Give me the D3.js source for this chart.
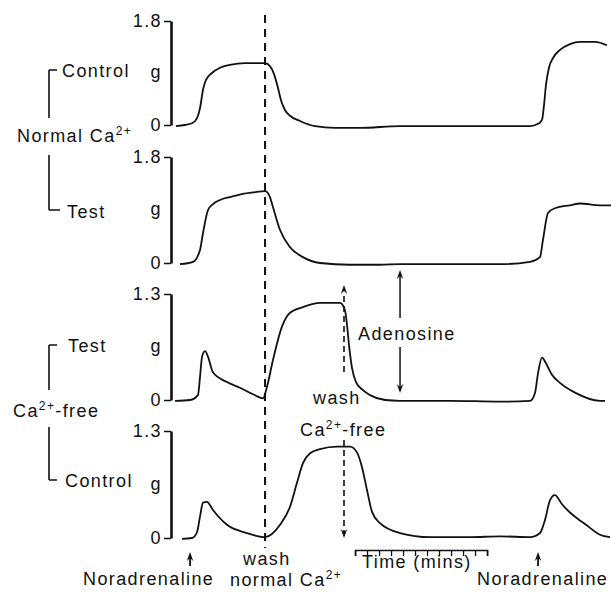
<!DOCTYPE html>
<html><head><meta charset="utf-8">
<script src="https://cdn.jsdelivr.net/npm/d3@7"></script>
<style>
body{margin:0;background:#fff;}
svg text{font-family:"Liberation Sans",Arial,Helvetica,sans-serif;font-size:18px;fill:#111;letter-spacing:1.4px;}
</style></head><body><svg id="c" width="611" height="592"></svg>
<script>
// ---- data (time in minutes, tension in g) ----
const panelNames = ["Control", "Test", "Test", "Control"];
const groupNames = ["Normal Ca", "Ca"];
const axisMax = [1.8, 1.8, 1.3, 1.3];
const axisUnit = "g";

const tNormalControl = [0.0,0.75,1.33,1.75,2.0,2.25,2.5,3.0,3.67,4.5,5.75,7.42,7.83,8.17,8.5,8.75,9.08,9.5,10.33,11.58,13.25,15.33,18.67,22.83,27.0,29.5,30.17,30.5,30.67,30.83,31.08,31.42,32.0,32.83,33.67,34.92,35.92];
const vNormalControl = [-0.02,0,0.03,0.12,0.29,0.61,0.78,0.9,0.99,1.04,1.07,1.07,1.02,0.88,0.64,0.43,0.26,0.16,0.07,-0.02,-0.05,-0.05,-0.02,-0.02,-0.02,-0.02,0.02,0.09,0.35,0.69,0.99,1.16,1.3,1.4,1.44,1.44,1.38];

const tNormalTest = [0.33,1.42,2.0,2.25,2.67,3.08,3.67,4.5,5.5,6.5,7.42,7.83,8.08,8.67,9.5,10.58,12.0,14.5,17.0,18.67,22.83,27.0,29.5,30.33,30.58,31.0,31.58,32.83,33.67,35.33,36.25];
const vNormalTest = [-0.02,0.02,0.22,0.51,0.9,1.0,1.07,1.12,1.17,1.2,1.22,1.12,0.95,0.56,0.27,0.1,0,-0.03,-0.03,-0.02,-0.02,-0.02,0.02,0.1,0.39,0.85,0.93,0.98,1.01,0.98,0.98];

const tFreeTest = [-0.08,1.17,1.83,2.0,2.17,2.42,2.67,3.08,4.25,5.33,6.42,7.25,7.58,8.08,8.83,9.5,10.58,12.0,13.67,14.08,14.25,14.42,14.67,15.0,15.58,16.17,17.42,18.67,22.83,27.0,29.5,29.92,30.17,30.5,30.83,31.33,32.0,33.25,35.33,35.75];
const vFreeTest = [-0.01,0,0.06,0.28,0.53,0.6,0.53,0.34,0.22,0.15,0.07,0.02,0.16,0.49,0.9,1.07,1.14,1.19,1.19,1.1,0.92,0.67,0.39,0.22,0.12,0.06,0,-0.01,-0.01,-0.02,-0.01,0.09,0.33,0.52,0.45,0.31,0.21,0.09,-0.01,-0.01];

const tFreeControl = [0.5,1.33,1.75,2.0,2.25,2.58,3.08,4.25,5.92,7.42,8.67,9.5,10.08,10.58,11.17,12.0,13.42,14.5,15.08,15.5,15.92,16.33,17.0,18.67,21.17,24.5,27.0,29.5,30.33,30.75,31.17,31.58,32.17,32.83,33.5,34.08,35.33,36.17];
const vFreeControl = [-0.01,0,0.07,0.26,0.43,0.44,0.34,0.16,0.06,0.01,0.16,0.38,0.67,0.91,1.03,1.08,1.11,1.11,1.04,0.86,0.58,0.32,0.18,0.06,0.01,0.01,0.02,0.01,0.06,0.22,0.46,0.52,0.41,0.31,0.23,0.17,0.04,0.01];

const tSeries = [tNormalControl, tNormalTest, tFreeTest, tFreeControl];
const vSeries = [vNormalControl, vNormalTest, vFreeTest, vFreeControl];

const tNoradrenaline = [1.17, 30.17];
const tWashNormal = 7.42;
const tWashFree = 14.0;
const tAdenosine = 18.67;
const timeBarStart = 14.92;
const timeBarMinutes = 11;

// ---- layout ----
const svg = d3.select("#c");
const x = d3.scaleLinear().domain([0, 36.25]).range([176, 611]);
const panelRanges = [[125, 21], [263, 157], [400, 294], [538, 431]];
const axisX = 171;
const ink = "#111";

const line = (ys) => d3.line().x(d => x(d[0])).y(d => ys(d[1])).curve(d3.curveMonotoneX);

panelRanges.forEach((r, i) => {
  const y = d3.scaleLinear().domain([0, axisMax[i]]).range(r);
  const ax = d3.axisLeft(y).tickValues([0, axisMax[i]])
    .tickFormat(d => d === 0 ? "0" : d3.format(".1f")(d))
    .tickSize(7).tickSizeOuter(0).tickPadding(2);
  const g = svg.append("g").attr("transform", `translate(${axisX},0)`).call(ax);
  g.attr("font-size", null).attr("font-family", null);
  g.select(".domain").attr("stroke", ink).attr("stroke-width", 2.6);
  g.selectAll(".tick line").attr("stroke", ink).attr("stroke-width", 1.5);
  g.selectAll(".tick text").attr("fill", ink);
  svg.append("text").attr("x", 162).attr("y", (r[0] + r[1]) / 2 + 5)
    .attr("text-anchor", "end").text(axisUnit);
  const data = tSeries[i].map((t, k) => [t, vSeries[i][k]]);
  svg.append("path").datum(data).attr("d", line(y)).attr("fill", "none")
    .attr("stroke", ink).attr("stroke-width", 1.8).attr("stroke-linejoin", "round");
});

// brackets and side labels
function bracket(x0, yTop, yBot, hy, hx) {
  svg.append("path").attr("d", `M${hx},${hy}H${x0}M${x0},${yTop}V${yBot}`)
    .attr("stroke", ink).attr("stroke-width", 1.6).attr("fill", "none");
}
bracket(49, 70, 118, 70, 57);
bracket(49, 155, 210, 210, 60);
bracket(49, 345, 390, 345, 57);
bracket(49, 427, 480, 480, 57);

const sideLabels = [[62, 77], [67, 218], [68, 352], [65, 487]];
sideLabels.forEach((p, i) => svg.append("text").attr("x", p[0]).attr("y", p[1]).text(panelNames[i]));

function caText(xp, yp, pre, post, anchor) {
  const t = svg.append("text").attr("x", xp).attr("y", yp).attr("text-anchor", anchor || "start");
  t.append("tspan").text(pre);
  t.append("tspan").attr("dy", -7).style("font-size", "12px").text("2+");
  t.append("tspan").attr("dy", 7).text(post);
  return t;
}
caText(17, 142, groupNames[0], "");
caText(13, 417, groupNames[1], "-free");

// arrows
function head(xp, yp, dir) { // dir -1 up, 1 down; (xp,yp) = tip
  const w = 3.2, l = 9;
  svg.append("path").attr("d", `M${xp},${yp}L${xp - w},${yp - dir * l}L${xp},${yp - dir * (l - 3)}L${xp + w},${yp - dir * l}Z`)
    .attr("fill", ink);
}
function vline(xp, y0, y1, dash, w) {
  svg.append("line").attr("x1", xp).attr("x2", xp).attr("y1", y0).attr("y2", y1)
    .attr("stroke", ink).attr("stroke-width", w || 1.5).attr("stroke-dasharray", dash || null);
}

// wash normal Ca dashed line
vline(x(tWashNormal), 15, 548, "8,6", 2);

// wash Ca-free dashed arrows
const xf = x(tWashFree);
vline(xf, 372, 292, "6,4", 1.6); head(xf, 285, -1);
vline(xf, 440, 532, "6,4", 1.6); head(xf, 538, 1);

// adenosine double arrow
const xa = x(tAdenosine);
vline(xa, 318, 276, null, 1.5); head(xa, 270, -1);
vline(xa, 347, 387, null, 1.5); head(xa, 393, 1);

// noradrenaline arrows
tNoradrenaline.forEach(t => { vline(x(t), 566, 556, null, 1.8); head(x(t), 552, -1); });

// time bar
const tb = d3.scaleLinear().domain([0, timeBarMinutes]).range([x(timeBarStart), x(timeBarStart + timeBarMinutes)]);
const tg = svg.append("g").attr("transform", "translate(0,550)")
  .call(d3.axisBottom(tb).ticks(timeBarMinutes).tickSize(6).tickSizeOuter(6).tickFormat(""));
tg.select(".domain").attr("stroke", ink).attr("stroke-width", 1.6);
tg.selectAll(".tick line").attr("stroke", ink).attr("stroke-width", 1.3);

// annotations
svg.append("text").attr("x", 358).attr("y", 340).text("Adenosine");
svg.append("text").attr("x", 313).attr("y", 404).text("wash");
caText(300, 436, "Ca", "-free");
svg.append("text").attr("x", 362).attr("y", 568).text("Time (mins)");
svg.append("text").attr("x", 83).attr("y", 585).text("Noradrenaline");
svg.append("text").attr("x", 477).attr("y", 585).text("Noradrenaline");
svg.append("text").attr("x", 243).attr("y", 565).text("wash");
caText(230, 586, "normal Ca", "");
</script></body></html>
